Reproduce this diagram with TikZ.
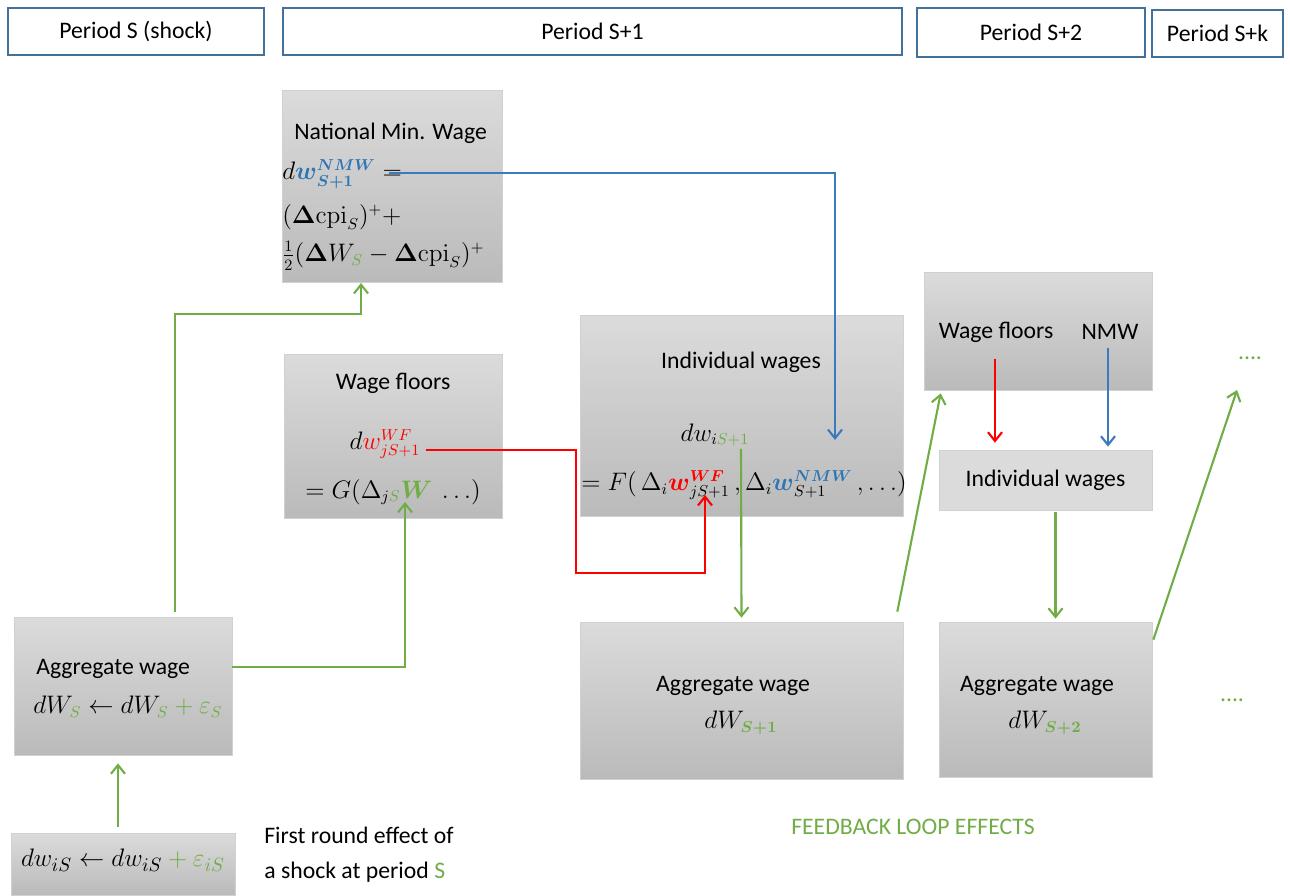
\documentclass[tikz,border=0pt]{standalone}
\usepackage{amsmath}
\usepackage[no-math]{fontspec}
\setmainfont{Carlito}
\usetikzlibrary{arrows.meta,calc}
\definecolor{grn}{RGB}{112,173,71}
\definecolor{blu}{RGB}{46,117,182}
\definecolor{arblu}{RGB}{60,122,190}
\definecolor{hdr}{RGB}{65,113,156}

\begin{document}
\begin{tikzpicture}[x=0.02cm,y=-0.02cm,
    >={Straight Barb[length=5pt,width=8pt]},
    font=\fontsize{13.5}{16}\selectfont,
    every node/.style={inner sep=0pt},
    period/.style={draw=hdr,line width=0.8pt,fill=white},
    greybox/.style={draw=black!18,top color=black!14,bottom color=black!27},
    lightbox/.style={draw=black!18,fill=black!14},
    garrow/.style={->,draw=grn,line width=1.2pt},
    rarrow/.style={->,draw=red,line width=1.2pt},
    barrow/.style={->,draw=arblu,line width=1.2pt}]
  \useasboundingbox (0,0) rectangle (1290,895);
  % periods
  \node[period,minimum width=5.12cm,minimum height=0.94cm] (pS) at (136,31.5) {Period S (shock)};
  \node[period,minimum width=12.38cm,minimum height=0.94cm] (pS1) at (592.5,31.5) {Period S+1};
  \node[period,minimum width=4.56cm,minimum height=0.98cm] (pS2) at (1031,32.5) {Period S+2};
  \node[period,minimum width=2.62cm,minimum height=0.94cm] (pSk) at (1217.5,33.5) {Period S+k};
  % boxes
  \node[greybox,minimum width=4.4cm,minimum height=3.84cm] (nmw) at (392,186) {};
  \node[greybox,minimum width=4.36cm,minimum height=3.28cm] (wf) at (393,436) {};
  \node[greybox,minimum width=6.46cm,minimum height=4.02cm] (iw) at (741.5,415.5) {};
  \node[greybox,minimum width=4.56cm,minimum height=2.36cm] (rtop) at (1038,331) {};
  \node[lightbox,minimum width=4.26cm,minimum height=1.2cm] (riw) at (1045.5,480) {Individual wages};
  \node[greybox,minimum width=4.36cm,minimum height=2.76cm] (aggS) at (123,686) {};
  \node[greybox,minimum width=4.48cm,minimum height=1.24cm] (dwS) at (123,864) {};
  \node[greybox,minimum width=6.46cm,minimum height=3.14cm] (agg1) at (741.5,700.5) {};
  \node[greybox,minimum width=4.26cm,minimum height=3.1cm] (agg2) at (1045.5,699.5) {};
  % texts
  \node[anchor=west] (nmwtitle) at (294,133) {National Min. Wage};
  \node[anchor=west] (nmweq) at (282,174) {$d{\color{blu}\boldsymbol{w}^{\boldsymbol{NMW}}_{\boldsymbol{S+1}}} =$};
  \node[anchor=west] (nmwcpi) at (282,217) {$(\mathbf{\Delta}\mathrm{cpi}_S)^+ +$};
  \node[anchor=west] (nmwhalf) at (282,256) {$\tfrac{1}{2}(\mathbf{\Delta}W_{{\color{grn}S}} - \mathbf{\Delta}\mathrm{cpi}_S)^+$};
  \node (wftitle) at (393,383) {Wage floors};
  \node (wfeq) at (385,444) {$d{\color{red}w^{WF}_{jS+1}}$};
  \node (wfg) at (393,492) {$= G(\Delta_{j{\color{grn}S}}{\color{grn}\boldsymbol{W}}\ \ldots)$};
  \node (iwtitle) at (741,362) {Individual wages};
  \node (iweq) at (715,435) {$dw_{i{\color{grn}S+1}}$};
  \node (iwf) at (744,485) {$= F(\,\Delta_i{\color{red}\boldsymbol{w}^{\boldsymbol{WF}}_{{\color{black}jS+1}}}\,,\Delta_i{\color{blu}\boldsymbol{w}^{\boldsymbol{NMW}}_{{\color{black}S+1}}}\,,\ldots)$};
  \node (wf2) at (996,332) {Wage floors};
  \node (nmw2) at (1110,332) {NMW};
  \node[anchor=west] (aggtitle) at (36,669) {Aggregate wage};
  \node[anchor=west] (aggeq) at (33,707) {$dW_{{\color{grn}S}}\leftarrow dW_{{\color{grn}S}}{\color{grn}{}+\varepsilon_S}$};
  \node (dweq) at (123,860) {\fontsize{15}{18}\selectfont$dw_{iS}\leftarrow dw_{iS}{\color{grn}{}+\varepsilon_{iS}}$};
  \node (agg1title) at (733,686) {Aggregate wage};
  \node (agg1eq) at (741,723) {$dW_{{\color{grn}\boldsymbol{S+1}}}$};
  \node (agg2title) at (1037,686) {Aggregate wage};
  \node (agg2eq) at (1045,723) {$dW_{{\color{grn}\boldsymbol{S+2}}}$};
  \node[anchor=west] (note1) at (264,835) {First round effect of};
  \node[anchor=west] (note2) at (264,872) {a shock at period {\color{grn}S}};
  \node[text=grn] (feedback) at (913,827) {FEEDBACK LOOP EFFECTS};
  \node[text=grn] (dots1) at (1250,358) {....};
  \node[text=grn] (dots2) at (1232,700) {....};
  % connectors
  \coordinate (nmwin) at (361,283);
  \coordinate (wfin) at (405,502);
  \coordinate (redturn) at (576,573);
  \coordinate (iwred) at (705,495);
  \coordinate (iwblue) at (835,440);
  \coordinate (nxt) at (1237,390);
  \draw[garrow] ($(dwS.north)+(-5,-6)$) -- ($(aggS.south)+(-5,8)$);
  \draw[garrow] ($(aggS.north)+(52,-5)$) -- ++(0,-298) -| (nmwin);
  \draw[garrow] ($(aggS.east)+(0,-19)$) -| (wfin);
  \draw[rarrow] ($(wfeq.east)+(5,6)$) -| (redturn) -| (iwred);
  \draw[barrow] ($(nmweq.east)+(-13,-1)$) -| (iwblue);
  \draw[garrow] ($(iweq.south)+(26,2)$) -- ($(agg1.north)+(0,-4)$);
  \draw[garrow] ($(agg1.north east)+(-6,-10)$) -- ($(rtop.south west)+(17,3)$);
  \draw[rarrow] ($(wf2.south)+(-1,16)$) -- ($(riw.north -| wf2)+(-1,-7)$);
  \draw[barrow] ($(nmw2.south)+(-2,8)$) -- ($(riw.north -| nmw2)+(-2,-3)$);
  \draw[garrow] ($(riw.south)+(10,2)$) -- ($(agg2.north)+(10,-3)$);
  \draw[garrow] ($(agg2.north east)+(1,18)$) -- (nxt);
\end{tikzpicture}
\end{document}
